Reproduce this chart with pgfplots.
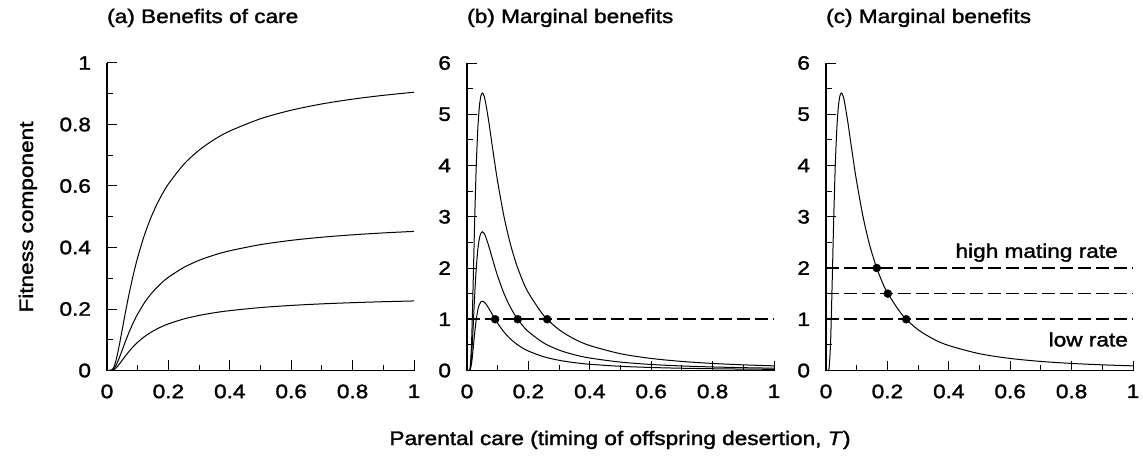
\documentclass[border=0pt]{standalone}
\usepackage{fontspec}
\setmainfont{Liberation Sans}[FakeStretch=1.16, FakeBold=1.6]
\usepackage{pgfplots}
\pgfplotsset{compat=1.18}
\usepackage{pgfplotstable}

\pgfplotstableread{
T f1 f2 f3 g1 g2 g3
0 0 0 0 0 0 0
0.005 0 0 0 0 0 0
0.01 0.00005 0.00002 0.00001 0.0454 0.0227 0.0114
0.015 0.00127 0.00064 0.00032 0.5646 0.2823 0.1412
0.02 0.00674 0.00337 0.00168 1.6845 0.8423 0.4211
0.025 0.01832 0.00916 0.00458 2.9305 1.4653 0.7326
0.03 0.03567 0.01784 0.00892 3.9638 1.9819 0.9910
0.035 0.05743 0.02872 0.01436 4.6884 2.3442 1.1721
0.04 0.08209 0.04104 0.02052 5.1303 2.5652 1.2826
0.045 0.10837 0.05418 0.02709 5.3515 2.6758 1.3379
0.05 0.13534 0.06767 0.03383 5.4134 2.7067 1.3534
0.055 0.16233 0.08117 0.04058 5.3663 2.6832 1.3416
0.06 0.18888 0.09444 0.04722 5.2466 2.6233 1.3117
0.07 0.23965 0.11983 0.05991 4.8910 2.4455 1.2228
0.08 0.28651 0.14325 0.07163 4.4766 2.2383 1.1192
0.09 0.32919 0.16460 0.08230 4.0641 2.0321 1.0160
0.1 0.36788 0.18394 0.09197 3.6788 1.8394 0.9197
0.12 0.43460 0.21730 0.10865 3.0180 1.5090 0.7545
0.14 0.48954 0.24477 0.12239 2.4977 1.2489 0.6244
0.16 0.53526 0.26763 0.13382 2.0909 1.0455 0.5227
0.18 0.57375 0.28688 0.14344 1.7708 0.8854 0.4427
0.2 0.60653 0.30327 0.15163 1.5163 0.7582 0.3791
0.25 0.67032 0.33516 0.16758 1.0725 0.5363 0.2681
0.3 0.71653 0.35827 0.17913 0.7961 0.3981 0.1990
0.35 0.75148 0.37574 0.18787 0.6135 0.3068 0.1534
0.4 0.77880 0.38940 0.19470 0.4868 0.2434 0.1217
0.5 0.81873 0.40937 0.20468 0.3275 0.1638 0.0819
0.6 0.84648 0.42324 0.21162 0.2351 0.1176 0.0588
0.7 0.86688 0.43344 0.21672 0.1769 0.0885 0.0442
0.8 0.88250 0.44125 0.22062 0.1379 0.0690 0.0345
0.9 0.89484 0.44742 0.22371 0.1105 0.0553 0.0276
1.0 0.90484 0.45242 0.22621 0.0905 0.0453 0.0226
}\data

\newcommand{\fsz}{\fontsize{19.5}{23}\selectfont}

\pgfplotsset{
  panel/.style={
    scale only axis, width=307pt, height=307.5pt,
    anchor=south west,
    xmin=0, xmax=1,
    axis x line=bottom, axis y line=left,
    axis line style={-, line width=1.2pt},
    tick align=inside, major tick length=10pt, minor tick length=6pt,
    every tick/.style={black, line width=1pt},
    xtick={0,0.2,0.4,0.6,0.8,1}, minor x tick num=1,
    minor y tick num=1,
    ticklabel style={font=\fsz},
    xticklabel style={yshift=-10.5pt},
    yticklabel style={xshift=-12.5pt},
    /pgf/number format/assume math mode=true,
    title style={at={(0,1)}, anchor=base west, yshift=34pt, font=\fsz, inner sep=0pt},
    clip=true,
  },
  curve/.style={black, line width=1pt, smooth, no markers},
  hline/.style={black, line width=1.6pt, dash pattern=on 13pt off 5pt, no markers},
  dots/.style={black, only marks, mark=*, mark size=4pt},
}

\begin{document}
\begin{tikzpicture}[x=1pt,y=1pt]
\path[use as bounding box] (0,0) rectangle (1143,464);

\begin{axis}[panel, at={(107pt,93.5pt)}, ymin=0, ymax=1,
  ytick={0,0.2,0.4,0.6,0.8,1}, title={(a) Benefits of care}]
\addplot[curve] table[x=T, y=f1] {\data};
\addplot[curve] table[x=T, y=f2] {\data};
\addplot[curve] table[x=T, y=f3] {\data};
\end{axis}

\begin{axis}[panel, at={(467pt,93.5pt)}, ymin=0, ymax=6,
  ytick={0,1,2,3,4,5,6}, title={(b) Marginal benefits}]
\addplot[hline] coordinates {(0,1) (1,1)};
\addplot[curve] table[x=T, y=g1] {\data};
\addplot[curve] table[x=T, y=g2] {\data};
\addplot[curve] table[x=T, y=g3] {\data};
\addplot[dots] coordinates {(0.0916,1) (0.1652,1) (0.2612,1)};
\end{axis}

\begin{axis}[panel, at={(826pt,93.5pt)}, ymin=0, ymax=6,
  ytick={0,1,2,3,4,5,6}, title={(c) Marginal benefits}]
\addplot[hline] coordinates {(0,1) (1,1)};
\addplot[hline] coordinates {(0,1.5) (1,1.5)};
\addplot[hline] coordinates {(0,2) (1,2)};
\addplot[curve] table[x=T, y=g1] {\data};
\addplot[dots] coordinates {(0.1652,2) (0.2013,1.5) (0.2612,1)};
\node[anchor=base east, font=\fsz, inner sep=0pt] at (axis cs:0.951,2.2) {high mating rate};
\node[anchor=base east, font=\fsz, inner sep=0pt] at (axis cs:0.984,0.47) {low rate};
\end{axis}

\node[anchor=base, rotate=90, font=\fsz, inner sep=0pt] at (33,247) {Fitness component};
\node[anchor=base, font=\fsz, inner sep=0pt] at (620,19) {Parental care (timing of offspring desertion, \textit{T})};
\end{tikzpicture}
\end{document}
